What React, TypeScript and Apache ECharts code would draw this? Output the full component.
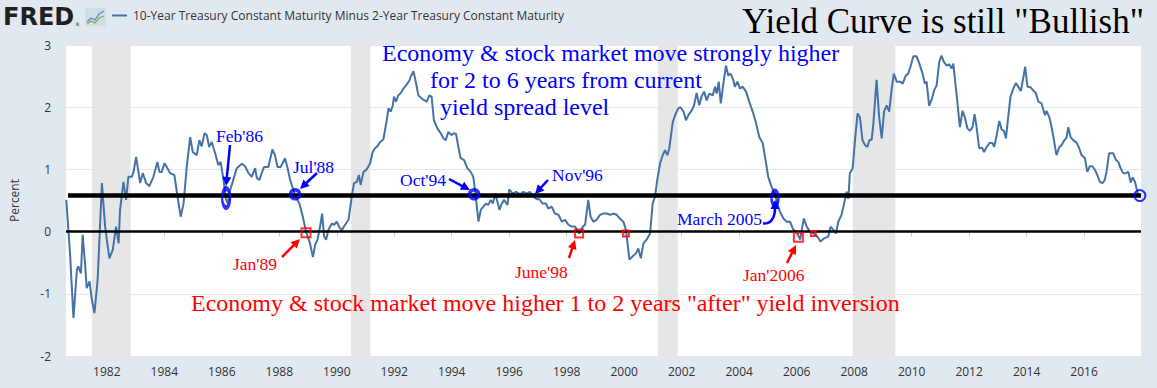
import React, { useEffect, useRef } from "react";
import * as echarts from "echarts";

// ---- data (decimal years, percent) ----
const dates = [
  1980.59, 1980.72, 1980.84, 1980.96, 1981.01, 1981.10, 1981.16, 1981.25, 1981.30, 1981.40,
  1981.48, 1981.57, 1981.68, 1981.83, 1981.94, 1982.09, 1982.21, 1982.32, 1982.41, 1982.46,
  1982.58, 1982.67, 1982.75, 1982.87, 1982.93, 1983.02, 1983.16, 1983.25, 1983.37, 1983.48,
  1983.62, 1983.76, 1983.83, 1983.91, 1984.01, 1984.11, 1984.20, 1984.35, 1984.46, 1984.57,
  1984.67, 1984.78, 1984.90, 1984.99, 1985.13, 1985.22, 1985.30, 1985.40, 1985.48, 1985.56,
  1985.65, 1985.77, 1985.88, 1985.96, 1986.06, 1986.14, 1986.21, 1986.29, 1986.38, 1986.52,
  1986.70, 1986.81, 1986.93, 1987.04, 1987.16, 1987.22, 1987.31, 1987.39, 1987.47, 1987.62,
  1987.76, 1987.85, 1987.94, 1988.05, 1988.20, 1988.28, 1988.38, 1988.47, 1988.55, 1988.70,
  1988.82, 1988.93, 1989.07, 1989.17, 1989.25, 1989.33, 1989.42, 1989.49, 1989.56, 1989.63,
  1989.71, 1989.83, 1989.91, 1990.00, 1990.09, 1990.17, 1990.29, 1990.41, 1990.52, 1990.60,
  1990.70, 1990.77, 1990.83, 1990.93, 1991.04, 1991.16, 1991.25, 1991.33, 1991.41, 1991.51,
  1991.62, 1991.74, 1991.80, 1991.88, 1991.95, 1991.99, 1992.06, 1992.14, 1992.23, 1992.32,
  1992.41, 1992.53, 1992.57, 1992.67, 1992.76, 1992.84, 1992.96, 1993.01, 1993.13, 1993.22,
  1993.30, 1993.38, 1993.50, 1993.62, 1993.71, 1993.79, 1993.88, 1994.00, 1994.06, 1994.15,
  1994.23, 1994.31, 1994.43, 1994.54, 1994.66, 1994.75, 1994.83, 1994.93, 1995.01, 1995.10,
  1995.19, 1995.27, 1995.36, 1995.43, 1995.51, 1995.59, 1995.66, 1995.74, 1995.82, 1995.94,
  1996.00, 1996.12, 1996.24, 1996.38, 1996.49, 1996.61, 1996.72, 1996.84, 1996.96, 1997.05,
  1997.16, 1997.28, 1997.36, 1997.48, 1997.59, 1997.71, 1997.83, 1997.94, 1998.06, 1998.17,
  1998.29, 1998.44, 1998.56, 1998.64, 1998.75, 1998.83, 1998.93, 1999.04, 1999.16, 1999.27,
  1999.39, 1999.51, 1999.62, 1999.74, 1999.85, 1999.97, 2000.06, 2000.18, 2000.29, 2000.41,
  2000.49, 2000.58, 2000.67, 2000.78, 2000.90, 2000.99, 2001.07, 2001.15, 2001.25, 2001.34,
  2001.42, 2001.50, 2001.57, 2001.63, 2001.69, 2001.77, 2001.88, 2001.96, 2002.06, 2002.15,
  2002.23, 2002.35, 2002.43, 2002.52, 2002.61, 2002.69, 2002.78, 2002.87, 2002.96, 2003.08,
  2003.16, 2003.22, 2003.29, 2003.36, 2003.45, 2003.54, 2003.62, 2003.70, 2003.80, 2003.85,
  2003.94, 2004.03, 2004.12, 2004.24, 2004.35, 2004.47, 2004.58, 2004.70, 2004.82, 2004.90,
  2005.01, 2005.13, 2005.25, 2005.36, 2005.42, 2005.54, 2005.65, 2005.77, 2005.88, 2006.00,
  2006.12, 2006.25, 2006.35, 2006.46, 2006.58, 2006.72, 2006.83, 2006.95, 2007.10, 2007.18,
  2007.27, 2007.37, 2007.45, 2007.56, 2007.65, 2007.74, 2007.80, 2007.85, 2007.95, 2008.03,
  2008.12, 2008.20, 2008.29, 2008.38, 2008.46, 2008.53, 2008.61, 2008.67, 2008.78, 2008.87,
  2008.96, 2009.04, 2009.13, 2009.22, 2009.30, 2009.38, 2009.48, 2009.59, 2009.69, 2009.80,
  2009.88, 2009.96, 2010.06, 2010.17, 2010.27, 2010.38, 2010.46, 2010.52, 2010.61, 2010.71,
  2010.78, 2010.87, 2010.96, 2011.04, 2011.12, 2011.22, 2011.31, 2011.39, 2011.45, 2011.56,
  2011.68, 2011.77, 2011.85, 2011.94, 2012.03, 2012.12, 2012.19, 2012.26, 2012.35, 2012.45,
  2012.52, 2012.61, 2012.72, 2012.82, 2012.87, 2012.96, 2013.05, 2013.13, 2013.21, 2013.28,
  2013.36, 2013.44, 2013.54, 2013.63, 2013.71, 2013.80, 2013.88, 2013.95, 2014.03, 2014.14,
  2014.23, 2014.32, 2014.41, 2014.52, 2014.64, 2014.69, 2014.79, 2014.87, 2014.95, 2015.04,
  2015.14, 2015.22, 2015.30, 2015.39, 2015.45, 2015.53, 2015.62, 2015.74, 2015.83, 2015.91,
  2016.03, 2016.11, 2016.20, 2016.29, 2016.38, 2016.46, 2016.55, 2016.64, 2016.72, 2016.78,
  2016.87, 2017.01, 2017.11, 2017.19, 2017.27, 2017.36, 2017.45, 2017.54, 2017.62, 2017.69,
  2017.77, 2017.88,
];

const spread = [
  0.51, -0.35, -1.39, -0.61, -0.56, -0.67, -0.05, -0.56, -0.91, -0.80,
  -1.10, -1.31, -0.78, 0.78, 0.08, -0.43, -0.29, 0.08, -0.19, 0.35,
  0.80, 0.51, 0.88, 0.88, 0.96, 1.20, 0.78, 0.94, 0.78, 0.73,
  0.88, 1.12, 0.96, 0.96, 1.10, 1.02, 0.94, 0.91, 0.56, 0.24,
  0.45, 1.04, 1.52, 1.28, 1.23, 1.47, 1.37, 1.58, 1.55, 1.36,
  1.44, 1.26, 1.07, 1.12, 0.83, 0.53, 0.45, 0.67, 0.80, 1.02,
  1.09, 1.05, 0.94, 0.88, 1.02, 0.86, 0.83, 0.94, 1.04, 1.04,
  1.32, 1.23, 1.04, 1.04, 1.18, 1.04, 0.83, 0.70, 0.59, 0.45,
  0.24, 0.00, -0.19, -0.41, -0.21, -0.13, 0.08, 0.29, -0.08, -0.13,
  0.03, 0.13, 0.11, 0.16, 0.07, 0.02, 0.11, 0.19, 0.56, 0.78,
  0.80, 0.91, 0.75, 0.96, 1.00, 1.10, 1.28, 1.34, 1.37, 1.44,
  1.48, 1.79, 1.98, 1.93, 2.03, 2.17, 2.09, 2.19, 2.23, 2.30,
  2.35, 2.43, 2.49, 2.58, 2.38, 2.19, 2.14, 2.12, 2.09, 2.19,
  2.17, 1.79, 1.66, 1.58, 1.50, 1.47, 1.60, 1.55, 1.58, 1.57,
  1.36, 1.18, 1.15, 1.02, 0.96, 0.88, 0.59, 0.16, 0.35, 0.40,
  0.45, 0.43, 0.51, 0.45, 0.61, 0.48, 0.35, 0.45, 0.51, 0.43,
  0.68, 0.61, 0.64, 0.60, 0.64, 0.61, 0.64, 0.56, 0.52, 0.52,
  0.45, 0.45, 0.37, 0.40, 0.29, 0.27, 0.16, 0.19, 0.11, 0.08,
  0.08, -0.03, 0.08, 0.11, 0.51, 0.24, 0.16, 0.19, 0.27, 0.29,
  0.29, 0.27, 0.29, 0.27, 0.21, 0.16, 0.03, -0.45, -0.40, -0.35,
  -0.27, -0.43, -0.19, -0.13, -0.03, 0.45, 0.56, 0.83, 1.10, 1.23,
  1.31, 1.23, 1.34, 1.55, 1.76, 1.87, 1.98, 2.00, 1.93, 1.79,
  1.87, 1.95, 2.03, 2.23, 2.03, 2.17, 2.25, 2.11, 2.22, 2.19,
  2.33, 2.22, 2.41, 2.06, 2.38, 2.67, 2.51, 2.54, 2.43, 2.33,
  2.41, 2.30, 2.33, 2.25, 2.09, 1.93, 1.76, 1.52, 1.42, 1.20,
  0.88, 0.72, 0.59, 0.40, 0.32, 0.21, 0.16, 0.16, 0.03, 0.00,
  -0.13, 0.21, 0.08, 0.00, -0.03, -0.08, -0.16, -0.11, -0.08, 0.08,
  0.03, -0.03, 0.16, 0.27, 0.45, 0.64, 0.53, 0.94, 1.02, 1.47,
  1.90, 1.84, 1.47, 1.39, 1.36, 1.47, 1.48, 1.74, 2.44, 1.84,
  1.50, 1.93, 2.03, 1.93, 2.27, 2.54, 2.41, 2.41, 2.38, 2.51,
  2.54, 2.65, 2.82, 2.82, 2.70, 2.54, 2.38, 2.41, 2.02, 2.14,
  2.27, 2.35, 2.73, 2.83, 2.73, 2.67, 2.69, 2.62, 2.70, 2.22,
  1.68, 1.94, 1.84, 1.66, 1.62, 1.68, 1.89, 1.68, 1.34, 1.35,
  1.28, 1.36, 1.43, 1.42, 1.36, 1.55, 1.78, 1.64, 1.62, 1.50,
  1.84, 2.17, 2.30, 2.39, 2.33, 2.26, 2.46, 2.65, 2.33, 2.32,
  2.27, 2.23, 2.09, 2.06, 1.87, 1.94, 1.84, 1.68, 1.47, 1.23,
  1.36, 1.39, 1.46, 1.51, 1.68, 1.52, 1.47, 1.43, 1.34, 1.23,
  1.18, 0.96, 1.05, 1.05, 0.99, 0.91, 0.80, 0.78, 0.83, 0.96,
  1.26, 1.26, 1.15, 1.12, 1.02, 0.94, 0.94, 0.96, 0.79, 0.87,
  0.80, 0.59,
];

const xTickYears = [
  1982, 1984, 1986, 1988, 1990, 1992, 1994, 1996, 1998, 2000,
  2002, 2004, 2006, 2008, 2010, 2012, 2014, 2016,
];

// recession periods (start, end)
const recessionStarts = [1981.48, 1990.5, 2001.17, 2007.95];
const recessionEnds = [1982.83, 1991.17, 2001.86, 2009.43];

const X_MIN = 1980.58;
const X_MAX = 2017.98;
const Y_MIN = -2;
const Y_MAX = 3;

const bullishLevel = 0.58;

// blue circled points: Feb'86, Jul'88, Oct'94, March 2005, latest
const circleDates = [1986.15, 1988.55, 1994.78, 2005.245, 2017.94];
const circleValues = [0.54, 0.6, 0.6, 0.54, 0.58];

// red squared inversion points: Jan'89, June'98, Jan'00, Jan'2006, Aug'06
const squareDates = [1988.93, 1998.43, 2000.06, 2006.06, 2006.58];
const squareValues = [-0.02, -0.03, -0.03, -0.09, -0.03];

// ---- styles ----
const circleSizes: any[] = [[8, 19], 9, 9, [7, 14], 11];
const circleBorders = [3.5, 3.5, 3.5, 3.5, 2];
const squareSizes = [9, 8, 6, 9, 5];

const SERIF = "'Liberation Serif', 'Times New Roman', serif";
const SANS = "'Open Sans', 'Noto Sans', sans-serif";
const BLUE = "#0000ff";
const RED = "#ff0000";

function txt(text: string, x: number, baseline: number, size: number, color: string, align = "left", family = SERIF, central = 0.3375, weight = "normal") {
  return {
    type: "text",
    x,
    y: baseline - central * size,
    z: 100,
    silent: true,
    style: { text, fill: color, fontSize: size, fontFamily: family, fontWeight: weight, align, verticalAlign: "middle" },
  };
}

function arrow(x1: number, y1: number, x2: number, y2: number, color: string, w = 2.5, head = 9, half = 4.5) {
  const dx = x2 - x1, dy = y2 - y1;
  const len = Math.hypot(dx, dy);
  const ux = dx / len, uy = dy / len;
  const bx = x2 - ux * head, by = y2 - uy * head;
  const px = -uy, py = ux;
  return [
    { type: "line", z: 100, silent: true, shape: { x1, y1, x2: bx + ux, y2: by + uy }, style: { stroke: color, lineWidth: w } },
    {
      type: "polygon", z: 100, silent: true,
      shape: { points: [[x2, y2], [bx + px * half, by + py * half], [bx - px * half, by - py * half]] },
      style: { fill: color },
    },
  ];
}

export default function App() {
  const ref = useRef<HTMLDivElement>(null);

  useEffect(() => {
    document.body.style.margin = "0";
    const chart = echarts.init(ref.current!, null, { renderer: "svg" });

    const lineData = dates.map((d, i) => [d, spread[i]]);
    const recessionAreas = recessionStarts.map((s, i) => [{ xAxis: s }, { xAxis: recessionEnds[i] }]);

    const graphic: any[] = [
      // header
      txt("FRED", 3, 25, 24, "#231f20", "left", "'DejaVu Sans', sans-serif", 0.346, "bold"),
      txt("®", 75, 26, 5, "#231f20", "left", "'DejaVu Sans', sans-serif", 0.346),
      { type: "rect", z: 100, silent: true, shape: { x: 85, y: 8, width: 21, height: 18, r: 1 }, style: { fill: "#d3dde7" } },
      { type: "polyline", z: 101, silent: true, shape: { points: [[87, 22], [91, 18], [95, 20], [99, 14], [104, 11]] }, style: { stroke: "#5b8fc7", lineWidth: 1.3, fill: "none" } },
      { type: "polyline", z: 101, silent: true, shape: { points: [[87, 24], [91, 21], [95, 23], [99, 18], [104, 16]] }, style: { stroke: "#7cb342", lineWidth: 1.3, fill: "none" } },
      { type: "line", z: 100, silent: true, shape: { x1: 112, y1: 15.5, x2: 127, y2: 15.5 }, style: { stroke: "#4572a7", lineWidth: 2 } },
      txt("10-Year Treasury Constant Maturity Minus 2-Year Treasury Constant Maturity", 133, 20, 12, "#333333", "left", SANS, 0.388),
      // title
      txt("Yield Curve is still \"Bullish\"", 1144, 33, 35, "#000000", "right"),
      // blue note
      txt("Economy & stock market move strongly higher", 382, 61, 24, BLUE),
      txt("for 2 to 6 years from current", 430, 88, 24, BLUE),
      txt("yield spread level", 440, 115, 24, BLUE),
      // red note
      txt("Economy & stock market move higher 1 to 2 years \"after\" yield inversion", 191, 311, 24, RED),
      // point labels
      txt("Feb'86", 216, 142, 17.5, BLUE),
      txt("Jul'88", 293, 172.5, 17.5, BLUE),
      txt("Oct'94", 400, 186, 17.5, BLUE),
      txt("Nov'96", 552, 180.5, 17.5, BLUE),
      txt("March 2005", 677, 225, 17.5, BLUE),
      txt("Jan'89", 233, 270, 17.5, RED),
      txt("June'98", 515, 277.5, 17.5, RED),
      txt("Jan'2006", 743, 280.5, 17.5, RED),
      // arrows
      ...arrow(230, 145, 226, 186, BLUE),
      ...arrow(317, 173, 300, 189, BLUE),
      ...arrow(449, 179, 470, 190, BLUE),
      ...arrow(548, 180, 535, 194, BLUE),
      ...arrow(282, 257, 300, 239, RED),
      ...arrow(569, 258, 575, 240, RED),
      ...arrow(787, 263, 796, 245, RED),
      {
        type: "bezierCurve", z: 100, silent: true,
        shape: { x1: 763, y1: 223.5, cpx1: 771, cpy1: 224, cpx2: 775, cpy2: 218, x2: 775, y2: 208 },
        style: { stroke: BLUE, lineWidth: 2.5, fill: "none" },
      },
      { type: "polygon", z: 100, silent: true, shape: { points: [[775, 200], [770.5, 209], [779.5, 209]] }, style: { fill: BLUE } },
    ];

    const option: any = {
      animation: false,
      backgroundColor: "#e1e9f0",
      grid: { left: 66, right: 16, top: 45, bottom: 32, show: true, backgroundColor: "#ffffff", borderWidth: 0 },
      xAxis: {
        type: "value",
        min: X_MIN,
        max: X_MAX,
        axisLine: { show: true, lineStyle: { color: "#c0d0e0", width: 1 } },
        axisTick: { show: true, customValues: xTickYears, length: 5, lineStyle: { color: "#c0d0e0" } },
        axisLabel: {
          customValues: xTickYears,
          formatter: (v: number) => String(Math.round(v)),
          color: "#333333",
          fontSize: 12,
          fontFamily: SANS,
          margin: 9,
        },
        splitLine: { show: false },
      },
      yAxis: {
        type: "value",
        min: Y_MIN,
        max: Y_MAX,
        interval: 1,
        name: "Percent",
        nameLocation: "middle",
        nameGap: 46,
        nameTextStyle: { color: "#333333", fontSize: 12, fontFamily: SANS },
        axisLine: { show: false },
        axisTick: { show: false },
        axisLabel: { color: "#333333", fontSize: 12, fontFamily: SANS, margin: 15 },
        splitLine: { lineStyle: { color: "#e6e6e6", width: 1 } },
      },
      series: [
        {
          type: "line",
          data: lineData,
          showSymbol: false,
          symbol: "none",
          z: 2,
          lineStyle: { color: "#4572a7", width: 2 },
          silent: true,
          markArea: { silent: true, itemStyle: { color: "#e6e6e6" }, data: recessionAreas },
        },
        {
          type: "line",
          data: [[X_MIN + 0.07, bullishLevel], [X_MAX, bullishLevel]],
          symbol: "none",
          z: 3,
          silent: true,
          lineStyle: { color: "#000000", width: 4.5 },
        },
        {
          type: "line",
          data: [[X_MIN, 0], [X_MAX, 0]],
          symbol: "none",
          z: 3,
          silent: true,
          lineStyle: { color: "#000000", width: 2.5 },
        },
        {
          type: "scatter",
          z: 5,
          silent: true,
          data: circleDates.map((d, i) => ({
            value: [d, circleValues[i]],
            symbolSize: circleSizes[i],
            itemStyle: { color: "rgba(0,0,0,0)", borderColor: BLUE, borderWidth: circleBorders[i] },
          })),
        },
        {
          type: "scatter",
          z: 5,
          silent: true,
          symbol: "rect",
          data: squareDates.map((d, i) => ({
            value: [d, squareValues[i]],
            symbolSize: squareSizes[i],
          })),
          itemStyle: { color: "rgba(0,0,0,0)", borderColor: RED, borderWidth: 2 },
        },
      ],
      graphic,
    };

    chart.setOption(option);
    return () => chart.dispose();
  }, []);

  return <div ref={ref} style={{ width: 1157, height: 388 }} />;
}
